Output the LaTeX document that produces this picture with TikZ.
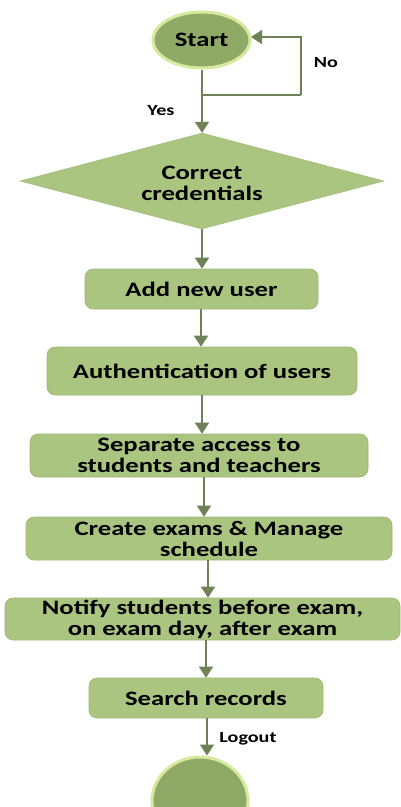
\documentclass[tikz,border=0pt]{standalone}
\usepackage{fontspec}
\newfontfamily\lab{Carlito}[FakeStretch=1.3]
\usetikzlibrary{shapes.geometric,arrows.meta,calc}
\definecolor{boxfill}{HTML}{AAC57F}
\definecolor{boxline}{HTML}{9DB872}
\definecolor{ellfill}{HTML}{8FAA66}
\definecolor{glow}{HTML}{D6EA9E}
\definecolor{arrc}{HTML}{6F8257}
\tikzset{
  every node/.style={font=\lab\bfseries\fontsize{20.5}{21}\selectfont, text=black, inner sep=0pt, align=center},
  stepbox/.style={rectangle, rounded corners=8pt, fill=boxfill, draw=boxline, line width=0.6pt},
  decision/.style={diamond, fill=boxfill, draw=boxline, line width=0.4pt},
  term/.style={ellipse, fill=ellfill, draw=glow, line width=3pt},
  conn/.style={draw=arrc, line width=1.6pt},
  arr/.style={conn, -{Triangle[width=14pt,length=11pt]}},
  small/.style={font=\lab\bfseries\fontsize{15.5}{17}\selectfont}
}
\begin{document}
\begin{tikzpicture}[x=1pt,y=-1pt]
\useasboundingbox (0,0) rectangle (401,807);
\fill[white] (0,0) rectangle (401,807);

\node[term, minimum width=97pt, minimum height=56pt] (start) at (201.5,40) {Start};
\node[decision, minimum width=364pt, minimum height=96pt] (dec) at (202,181) {};
\node (dectext) at (202,183) {Correct\\credentials};
\node[stepbox, minimum width=233pt, minimum height=40pt] (add) at (201.5,289) {Add new user};
\node[stepbox, minimum width=310pt, minimum height=48pt] (auth) at (202,371) {Authentication of users};
\node[stepbox, minimum width=338pt, minimum height=43pt] (sep) at (199,455.5) {Separate access to\\students and teachers};
\node[stepbox, minimum width=366pt, minimum height=43pt] (cre) at (209,538.5) {Create exams \& Manage\\schedule};
\node[stepbox, minimum width=395pt, minimum height=42pt] (not) at (202.5,619) {Notify students before exam,\\on exam day, after exam};
\node[stepbox, minimum width=234pt, minimum height=40pt] (sea) at (206,698) {Search records};
\node[term, minimum width=96pt, minimum height=88pt] (end) at (200,801) {};

\coordinate (j) at (202,95);
\coordinate (r) at (301,95);
\coordinate (se) at (251,37);
\draw[conn] (start.south -| j) -- (j);
\draw[arr] (j) -- (j |- dec.north);
\draw[conn] (j) -- (r);
\draw[arr] (r) |- (se);

\coordinate (x1) at (202,0);
\coordinate (x2) at (201,0);
\coordinate (x3) at (202,0);
\coordinate (x4) at (204,0);
\coordinate (x5) at (208,0);
\coordinate (x6) at (206,0);
\coordinate (x7) at (207,0);
\draw[arr] (x1 |- dec.south) -- (x1 |- add.north);
\draw[arr] (x2 |- add.south) -- (x2 |- auth.north);
\draw[arr] (x3 |- auth.south) -- (x3 |- sep.north);
\draw[arr] (x4 |- sep.south) -- (x4 |- cre.north);
\draw[arr] (x5 |- cre.south) -- (x5 |- not.north);
\draw[arr] (x6 |- not.south) -- (x6 |- sea.north);
\draw[arr] (x7 |- sea.south) -- (x7 |- end.north);

\node[small] (no) at (326,63) {No};
\node[small] (yes) at (161,111) {Yes};
\node[small] (lo) at (248,739) {Logout};
\end{tikzpicture}
\end{document}
